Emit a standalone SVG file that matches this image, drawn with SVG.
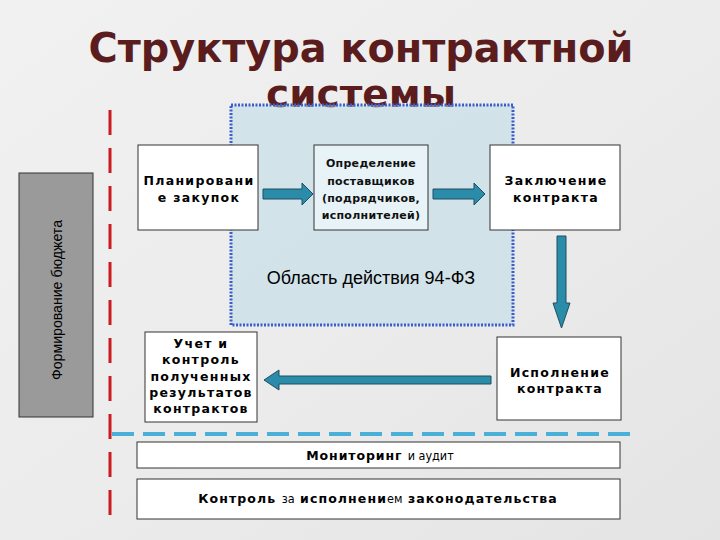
<svg xmlns="http://www.w3.org/2000/svg" width="720" height="540" viewBox="0 0 720 540">
<defs>
<linearGradient id="bg" x1="0" y1="0" x2="1" y2="1">
<stop offset="0" stop-color="#f1f1f1"/>
<stop offset="0.5" stop-color="#ececec"/>
<stop offset="1" stop-color="#e4e4e4"/>
</linearGradient>
<style>
.box{fill:#ffffff;stroke:#333333;stroke-width:1}
.t{font-family:"DejaVu Sans",Verdana,sans-serif;font-weight:bold;font-size:12.5px;letter-spacing:1.3px;fill:#000;text-anchor:middle}
.ts{font-family:"DejaVu Sans",Verdana,sans-serif;font-weight:bold;font-size:11px;letter-spacing:0.3px;fill:#111;text-anchor:middle}
.n{font-family:"DejaVu Sans Condensed","Liberation Sans Narrow",sans-serif;font-weight:normal;letter-spacing:0}
.arr{fill:#2a8ca8;stroke:#1e4f63;stroke-width:1}
</style>
</defs>
<rect width="720" height="540" fill="url(#bg)"/>
<g id="title">
<text x="361" y="62" font-family="DejaVu Sans Condensed,DejaVu Sans,sans-serif" font-weight="bold" font-size="40" fill="#5a1c1c" text-anchor="middle" textLength="545" lengthAdjust="spacingAndGlyphs">Структура контрактной</text>
<text x="361" y="107" font-family="DejaVu Sans Condensed,DejaVu Sans,sans-serif" font-weight="bold" font-size="38" fill="#5a1c1c" text-anchor="middle" textLength="190" lengthAdjust="spacingAndGlyphs">системы</text>
</g>
<g id="area94">
<rect x="231" y="105" width="282" height="220" fill="#bcdbe6" fill-opacity="0.55" stroke="#3a5fcd" stroke-width="3" stroke-dasharray="2 1.5"/>
<text x="371" y="284" font-family="Liberation Sans,Arial,sans-serif" font-size="18" fill="#000" text-anchor="middle">Область действия 94-ФЗ</text>
</g>
<g id="lines">
<line x1="110" y1="110" x2="110" y2="522" stroke="#cc1a1f" stroke-width="3" stroke-dasharray="25 13"/>
<line x1="112" y1="434" x2="635" y2="434" stroke="#4bb0d8" stroke-width="4" stroke-dasharray="22 9"/>
</g>
<g id="budget">
<rect x="19" y="173" width="74" height="244" fill="#9a9a9a" stroke="#333" stroke-width="1"/>
<text transform="translate(62 300) rotate(-90)" font-family="Liberation Sans,Arial,sans-serif" font-size="15" fill="#000" text-anchor="middle" textLength="160" lengthAdjust="spacingAndGlyphs">Формирование бюджета</text>
</g>
<g id="planning">
<rect class="box" x="138" y="145" width="120" height="85"/>
<text class="t" x="199" y="185">Планировани</text>
<text class="t" x="199" y="202">е закупок</text>
</g>
<g id="determination">
<rect class="box" x="314" y="145" width="114" height="85" style="fill:#e8f3f7"/>
<text class="ts" x="371" y="167">Определение</text>
<text class="ts" x="371" y="185">поставщиков</text>
<text class="ts" x="371" y="202">(подрядчиков,</text>
<text class="ts" x="371" y="219">исполнителей)</text>
</g>
<g id="conclusion">
<rect class="box" x="490" y="145" width="130" height="85"/>
<text class="t" x="556" y="185">Заключение</text>
<text class="t" x="556" y="202">контракта</text>
</g>
<g id="execution">
<rect class="box" x="497" y="337" width="124" height="83"/>
<text class="t" x="560" y="377">Исполнение</text>
<text class="t" x="560" y="393">контракта</text>
</g>
<g id="accounting">
<rect class="box" x="145" y="332" width="112" height="90"/>
<text class="t" x="201" y="348">Учет и</text>
<text class="t" x="201" y="364">контроль</text>
<text class="t" x="201" y="381">полученных</text>
<text class="t" x="201" y="397">результатов</text>
<text class="t" x="201" y="413">контрактов</text>
</g>
<g id="monitoring">
<rect class="box" x="137" y="442" width="483" height="26"/>
<text class="t" x="380" y="460" style="letter-spacing:0.9px">Мониторинг <tspan class="n">и аудит</tspan></text>
</g>
<g id="control">
<rect class="box" x="137" y="479" width="483" height="40"/>
<text class="t" x="378" y="503" style="letter-spacing:1.1px">Контроль <tspan class="n">за</tspan> исполнени<tspan class="n">ем</tspan> законодательства</text>
</g>
<g id="connectors">
<path class="arr" d="M263 189 L302 189 L302 183 L313 194 L302 205 L302 199 L263 199 Z"/>
<path class="arr" d="M433 189 L474 189 L474 183 L485 194 L474 205 L474 199 L433 199 Z"/>
<path class="arr" d="M557 236 L566 236 L566 303 L570 303 L561.5 328 L553 303 L557 303 Z"/>
<path class="arr" d="M491 376 L279 376 L279 370 L264 380 L279 390 L279 384 L491 384 Z"/>
</g>
</svg>
